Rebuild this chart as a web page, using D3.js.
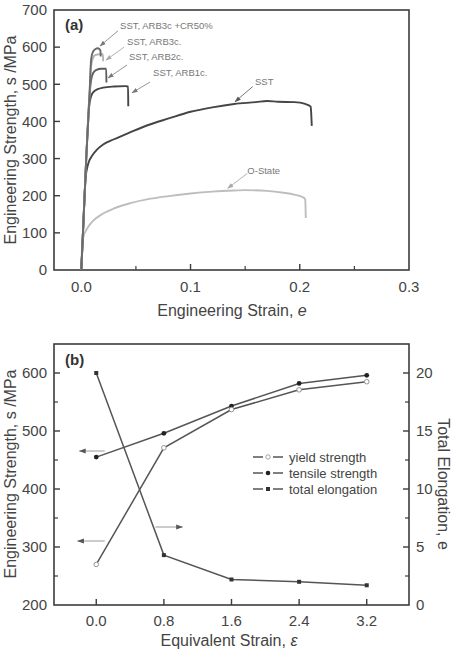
<!DOCTYPE html>
<html><head><meta charset="utf-8">
<script src="https://cdn.jsdelivr.net/npm/d3@7"></script>
<style>body{margin:0;background:#fff}svg{display:block}text{font-family:"Liberation Sans",Arial,sans-serif}</style>
</head><body>
<svg id="c" width="459" height="649"></svg>
<script>
// ---------- Panel (a) data: engineering stress-strain curves ----------
const sstCurve = [[0,0],[0.002,130],[0.004,250],[0.005,270],[0.007,292],[0.01,308],[0.015,326],[0.02,338],[0.03,352],[0.045,371],[0.06,389],[0.08,408],[0.1,426],[0.12,438],[0.14,447],[0.16,452],[0.17,455],[0.18,453],[0.195,452],[0.205,447],[0.21,440],[0.2105,420],[0.211,388]];
const arb1cCurve = [[0,0],[0.0045,300],[0.0072,440],[0.009,468],[0.011,479],[0.015,487],[0.02,491],[0.03,494],[0.04,495],[0.0428,494],[0.043,441]];
const arb2cCurve = [[0,0],[0.0045,300],[0.0075,470],[0.009,512],[0.011,531],[0.014,539],[0.018,542],[0.0228,542],[0.023,505]];
const arb3cCurve = [[0,0],[0.0045,300],[0.0075,470],[0.0088,545],[0.0105,570],[0.013,579],[0.017,581],[0.0198,581],[0.02,562]];
const arb3cCr50Curve = [[0,0],[0.0045,300],[0.0075,470],[0.0088,560],[0.0098,580],[0.011,589],[0.013,595],[0.015,597],[0.0165,595],[0.0175,590],[0.0178,575]];
const oStateCurve = [[0,0],[0.0008,70],[0.002,90],[0.005,110],[0.01,130],[0.02,152],[0.03,166],[0.045,180],[0.06,190],[0.08,199],[0.1,206],[0.12,211],[0.14,214],[0.15,215],[0.17,213],[0.185,208],[0.195,203],[0.203,196],[0.205,190],[0.2055,140]];
const strainTicksA = [0, 0.1, 0.2, 0.3];
const strainMinorA = [0.05, 0.15, 0.25];
const stressTicksA = [0,100,200,300,400,500,600,700];

// ---------- Panel (b) data ----------
const eqStrain = [0, 0.8, 1.6, 2.4, 3.2];
const yieldStrength = [270, 471, 537, 571, 585];
const tensileStrength = [455, 496, 543, 582, 596];
const totalElongation = [20, 4.3, 2.2, 2.0, 1.7];
const strengthTicksB = [200,300,400,500,600];
const strengthMinorB = [250,350,450,550,650];
const elongTicksB = [0,5,10,15,20];
const elongMinorB = [2.5,7.5,12.5,17.5];
const legendLabels = ["yield strength","tensile strength","total elongation"];

const svg = d3.select("#c");
const axisCol = "#3c3c3c", txtCol = "#444";

const defs = svg.append("defs");
function mk(id, col){
  defs.append("marker").attr("id",id).attr("viewBox","0 0 10 10").attr("refX",9).attr("refY",5)
   .attr("markerWidth",7).attr("markerHeight",7).attr("orient","auto-start-reverse")
   .append("path").attr("d","M0,1.5L10,5L0,8.5Z").attr("fill",col);
}
mk("ah","#555"); mk("ahl","#aaa"); mk("ahm","#777");

function frame(x0,x1,y0,y1){
  svg.append("rect").attr("x",x0).attr("y",y0).attr("width",x1-x0).attr("height",y1-y0)
    .attr("fill","none").attr("stroke",axisCol).attr("stroke-width",1.6);
}

// ================= Panel (a) =================
const L=54, R=409;
const xa = d3.scaleLinear().domain([-0.025,0.3]).range([L,R]);
const ya = d3.scaleLinear().domain([0,700]).range([270,10]);
frame(L,R,10,270);

const ga = svg.append("g");
strainTicksA.forEach(v=>{
  if (v<0.3) ga.append("line").attr("x1",xa(v)).attr("x2",xa(v)).attr("y1",270).attr("y2",264).attr("stroke",axisCol).attr("stroke-width",1.4);
  ga.append("text").attr("x",xa(v)).attr("y",287).attr("dy","0.35em").attr("text-anchor","middle").attr("font-size",15).attr("fill",txtCol).text(d3.format(".1f")(v));
});
strainMinorA.forEach(v=>ga.append("line").attr("x1",xa(v)).attr("x2",xa(v)).attr("y1",270).attr("y2",266).attr("stroke",axisCol).attr("stroke-width",1.2));
stressTicksA.forEach(v=>{
  if (v>0 && v<700) ga.append("line").attr("x1",L).attr("x2",L+6).attr("y1",ya(v)).attr("y2",ya(v)).attr("stroke",axisCol).attr("stroke-width",1.4);
  ga.append("text").attr("x",L-7).attr("y",ya(v)).attr("dy","0.35em").attr("text-anchor","end").attr("font-size",15).attr("fill",txtCol).text(v);
});

svg.append("text").attr("x",232).attr("y",310).attr("dy","0.35em").attr("text-anchor","middle").attr("font-size",16).attr("fill",txtCol)
  .html('Engineering Strain, <tspan font-style="italic">e</tspan>');
svg.append("text").attr("transform","translate(10,140) rotate(-90)").attr("dy","0.35em").attr("text-anchor","middle").attr("font-size",16).attr("fill",txtCol)
  .text("Engineering Strength, s /MPa");
svg.append("text").attr("x",65).attr("y",25).attr("dy","0.35em").attr("font-size",15).attr("font-weight","bold").attr("fill","#333").text("(a)");

const lineA = d3.line().x(d=>xa(d[0])).y(d=>ya(d[1])).curve(d3.curveMonotoneX);
const curves = [
  {d:oStateCurve, c:"#bdbdbd"},
  {d:sstCurve, c:"#454545"},
  {d:arb1cCurve, c:"#454545"},
  {d:arb2cCurve, c:"#5c5c5c"},
  {d:arb3cCurve, c:"#b4b4b4"},
  {d:arb3cCr50Curve, c:"#6a6a6a"}
];
curves.forEach(cv=>svg.append("path").attr("d",lineA(cv.d)).attr("fill","none").attr("stroke",cv.c).attr("stroke-width",1.9).attr("stroke-linejoin","round"));

const annA = [
  {t:"SST, ARB3c +CR50%", tx:0.0355, ty:657, a:[[0.0336,644],[0.0171,603]], m:"ahm", c:"#888"},
  {t:"SST, ARB3c.", tx:0.0419, ty:615, a:[[0.0391,600],[0.0226,565]], m:"ahl", c:"#aaa"},
  {t:"SST, ARB2c.", tx:0.0437, ty:573, a:[[0.0419,552],[0.0244,517]], m:"ahm", c:"#888"},
  {t:"SST, ARB1c.", tx:0.0657, ty:530, a:[[0.0629,506],[0.0464,477]], m:"ahm", c:"#888"},
  {t:"SST", tx:0.159, ty:507, a:[[0.157,494],[0.1407,453]], m:"ah", c:"#666"},
  {t:"O-State", tx:0.152, ty:267, a:[[0.152,260],[0.134,220]], m:"ahl", c:"#aaa"}
];
annA.forEach(a=>{
  svg.append("text").attr("x",xa(a.tx)).attr("y",ya(a.ty)).attr("dy","0.35em").attr("font-size",9.5).attr("fill","#777").text(a.t);
  svg.append("line").attr("x1",xa(a.a[0][0])).attr("y1",ya(a.a[0][1])).attr("x2",xa(a.a[1][0])).attr("y2",ya(a.a[1][1]))
    .attr("stroke",a.c).attr("stroke-width",0.9).attr("marker-end",`url(#${a.m})`);
});

// ================= Panel (b) =================
const xb = d3.scaleLinear().domain([-0.5,3.7]).range([L,R]);
const yb = d3.scaleLinear().domain([200,650]).range([605,344]);
const yb2 = d3.scaleLinear().domain([0,22.5]).range([605,344]);
frame(L,R,344,605);
const gb = svg.append("g");
eqStrain.forEach(v=>{
  gb.append("line").attr("x1",xb(v)).attr("x2",xb(v)).attr("y1",605).attr("y2",599).attr("stroke",axisCol).attr("stroke-width",1.4);
  gb.append("text").attr("x",xb(v)).attr("y",621).attr("dy","0.35em").attr("text-anchor","middle").attr("font-size",15).attr("fill",txtCol).text(d3.format(".1f")(v));
});
strengthTicksB.forEach(v=>{
  if (v>200) gb.append("line").attr("x1",L).attr("x2",L+6).attr("y1",yb(v)).attr("y2",yb(v)).attr("stroke",axisCol).attr("stroke-width",1.4);
  gb.append("text").attr("x",L-7).attr("y",yb(v)).attr("dy","0.35em").attr("text-anchor","end").attr("font-size",15).attr("fill",txtCol).text(v);
});
strengthMinorB.forEach(v=>{ if(v<650) gb.append("line").attr("x1",L).attr("x2",L+4).attr("y1",yb(v)).attr("y2",yb(v)).attr("stroke",axisCol).attr("stroke-width",1.2);});
elongTicksB.forEach(v=>{
  if (v>0) gb.append("line").attr("x1",R).attr("x2",R-6).attr("y1",yb2(v)).attr("y2",yb2(v)).attr("stroke",axisCol).attr("stroke-width",1.4);
  gb.append("text").attr("x",R+7).attr("y",yb2(v)).attr("dy","0.35em").attr("text-anchor","start").attr("font-size",15).attr("fill",txtCol).text(v);
});
elongMinorB.forEach(v=>gb.append("line").attr("x1",R).attr("x2",R-4).attr("y1",yb2(v)).attr("y2",yb2(v)).attr("stroke",axisCol).attr("stroke-width",1.2));

svg.append("text").attr("x",229).attr("y",640).attr("dy","0.35em").attr("text-anchor","middle").attr("font-size",16).attr("fill",txtCol)
  .html('Equivalent Strain, <tspan font-style="italic">ε</tspan>');
svg.append("text").attr("transform","translate(10,474) rotate(-90)").attr("dy","0.35em").attr("text-anchor","middle").attr("font-size",16).attr("fill",txtCol)
  .text("Engineering Strength, s /MPa");
svg.append("text").attr("transform","translate(444,484) rotate(90)").attr("dy","0.35em").attr("text-anchor","middle").attr("font-size",16).attr("fill",txtCol)
  .text("Total Elongation, e");
svg.append("text").attr("x",65).attr("y",360).attr("dy","0.35em").attr("font-size",15).attr("font-weight","bold").attr("fill","#333").text("(b)");

const lc = "#555";
const lineY = d3.line().x((d,i)=>xb(eqStrain[i])).y(d=>yb(d));
const lineE = d3.line().x((d,i)=>xb(eqStrain[i])).y(d=>yb2(d));
svg.append("path").attr("d",lineE(totalElongation)).attr("fill","none").attr("stroke",lc).attr("stroke-width",1.5);
svg.append("path").attr("d",lineY(yieldStrength)).attr("fill","none").attr("stroke",lc).attr("stroke-width",1.5);
svg.append("path").attr("d",lineY(tensileStrength)).attr("fill","none").attr("stroke",lc).attr("stroke-width",1.5);
totalElongation.forEach((v,i)=>svg.append("rect").attr("x",xb(eqStrain[i])-2).attr("y",yb2(v)-2).attr("width",4).attr("height",4).attr("fill","#333"));
tensileStrength.forEach((v,i)=>svg.append("circle").attr("cx",xb(eqStrain[i])).attr("cy",yb(v)).attr("r",2.4).attr("fill","#222"));
yieldStrength.forEach((v,i)=>svg.append("circle").attr("cx",xb(eqStrain[i])).attr("cy",yb(v)).attr("r",2.3).attr("fill","#fff").attr("stroke","#888").attr("stroke-width",0.9));

const arrowsB = [
  {from:[0.1,yb.invert(451)], to:[-0.2,yb.invert(451)], s:yb},
  {from:[0.1,yb.invert(541)], to:[-0.22,yb.invert(541)], s:yb},
  {from:[0.7,yb.invert(527)], to:[1.02,yb.invert(527)], s:yb}
];
arrowsB.forEach(a=>svg.append("line").attr("x1",xb(a.from[0])).attr("y1",a.s(a.from[1])).attr("x2",xb(a.to[0])).attr("y2",a.s(a.to[1]))
  .attr("stroke","#999").attr("stroke-width",1).attr("marker-end","url(#ah)"));

const lg = svg.append("g");
legendLabels.forEach((t,i)=>{
  const y = 457 + i*16;
  lg.append("line").attr("x1",253).attr("x2",263).attr("y1",y).attr("y2",y).attr("stroke",lc).attr("stroke-width",1.5);
  lg.append("line").attr("x1",273).attr("x2",283).attr("y1",y).attr("y2",y).attr("stroke",lc).attr("stroke-width",1.5);
  if (i===0) lg.append("circle").attr("cx",268).attr("cy",y).attr("r",2.2).attr("fill","#fff").attr("stroke","#999").attr("stroke-width",0.9);
  if (i===1) lg.append("circle").attr("cx",268).attr("cy",y).attr("r",2.3).attr("fill","#222");
  if (i===2) lg.append("rect").attr("x",266).attr("y",y-2).attr("width",4).attr("height",4).attr("fill","#333");
  lg.append("text").attr("x",289).attr("y",y).attr("dy","0.35em").attr("font-size",13).attr("fill",txtCol).text(t);
});
</script>
</body></html>
